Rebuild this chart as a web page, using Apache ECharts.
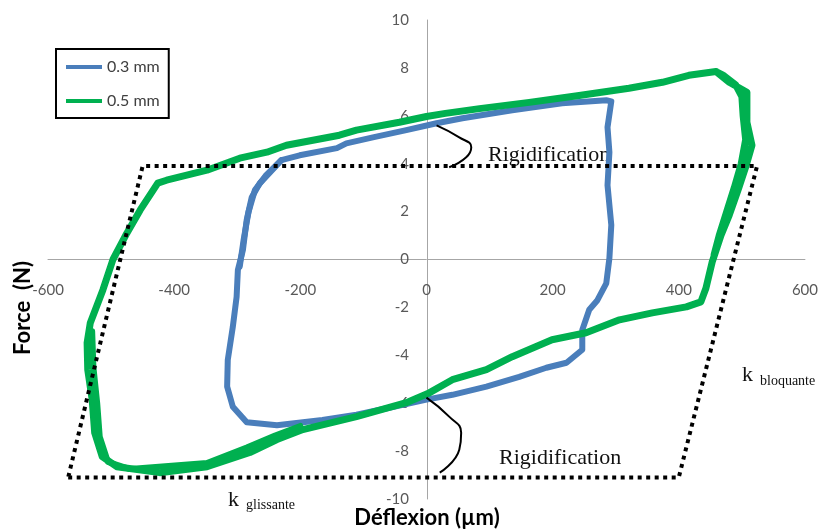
<!DOCTYPE html>
<html><head><meta charset="utf-8">
<script src="https://cdn.jsdelivr.net/npm/echarts@6/dist/echarts.min.js"></script>
<style>html,body{margin:0;padding:0;background:#fff}#c{width:821px;height:531px}</style>
</head><body><div id="c"></div>
<script>
const seriesNames = ['0.3 mm', '0.5 mm'];
const xRange = [-600, 600, 200];
const yRange = [-10, 10, 2];

const loop03 = [
  [293,6.6],[285,6.65],[215,6.52],[136,6.23],[57,5.9],[16,5.69],[-32,5.4],[-85,5.1],[-127,4.85],[-142,4.65],
  [-201,4.35],[-230,4.15],[-264,3.19],[-277,2.6],[-285,1.65],[-291,0.4],[-299,-0.44],[-301,-1.56],[-307,-2.81],
  [-315,-4.19],[-316,-5.31],[-307,-6.15],[-285,-6.8],[-237,-6.92],[-165,-6.7],[-111,-6.48],[-59,-6.19],[0,-5.85],
  [41,-5.65],[95,-5.31],[147,-4.9],[190,-4.52],[222,-4.31],[247,-3.77],[247,-2.94],[258,-2.1],[271,-1.7],
  [285,-1.0],[290,0.06],[293,1.44],[287,3.1],[290,4.48],[287,5.52],[293,6.6]
];
// second, slightly different pass of the 0.3 mm cycle near the left knee (band thickening)
const loop03b = [
  [-230,4.15],[-255,3.5],[-272,2.9],[-282,2.0],[-290,0.8],[-296,-0.3]
];
const loop05 = [
  [459,7.85],[416,7.69],[374,7.4],[321,7.15],[242,6.85],[163,6.56],[84,6.3],[30,6.1],[0,5.97],[-43,5.73],
  [-111,5.4],[-138,5.19],[-222,4.77],[-253,4.48],[-296,4.23],[-348,3.73],[-412,3.31],[-426,3.19],[-454,2.06],
  [-475,1.1],[-497,0],[-513,-1.27],[-533,-2.65],[-538,-3.48],[-537,-4.6],[-530,-5.85],[-526,-7.23],[-514,-8.23],
  [-491,-8.65],[-423,-8.9],[-348,-8.65],[-280,-8.06],[-237,-7.52],[-196,-7.1],[-111,-6.56],[-32,-5.98],[5,-5.56],
  [41,-5.02],[95,-4.6],[136,-4.06],[199,-3.35],[253,-3.06],[306,-2.52],[358,-2.23],[412,-1.98],[435,-1.77],
  [443,-1.2],[453,-0.1],[467,1.02],[480,1.85],[495,2.98],[507,3.94],[516,4.77],[508,5.73],[508,6.98],[480,7.4],[459,7.85],
  [470,7.7],[490,7.3],[500,6.8],[502,6.0],[506,5.0],[499,4.0],[488,3.0],[476,2.0],[464,1.0],[456,0.2]
];
// second pass of the 0.5 mm cycle on the left flank and lower branch
const loop05b = [
  [-530,-3.0],[-528,-4.5],[-522,-6.0],[-518,-7.4],[-505,-8.45],[-470,-8.75],
  [-348,-8.5],[-285,-7.85],[-240,-7.35],[-200,-6.95]
];
const dottedFrame = [[-568,-9.1],[400,-9.1],[524,3.9],[-450,3.9],[-568,-9.1]];
const braceTop = [[16,5.6],[52,5.1],[71,4.69],[63,4.27],[36,3.85]];
const braceBottom = [[0,-5.77],[36,-6.56],[55,-7.23],[52,-7.94],[21,-8.9]];
const annotText = 'Rigidification';
const kLabel = 'k';
const kSubs = ['bloquante', 'glissante'];
const xTitle = 'Déflexion (µm)';
const yTitle = 'Force  (N)';

const chart = echarts.init(document.getElementById('c'), null, {renderer: 'canvas'});
const sans = 'Lato, "Open Sans", sans-serif';
const serif = '"Liberation Serif", "DejaVu Serif", serif';
const tickLabel = {color: '#595959', fontSize: 15, fontFamily: sans};
const BLUE = '#4a7ebb', GREEN = '#00b050';

const G = {left: 48, right: 15, top: 20, bottom: 32};
const plotW = 821 - G.left - G.right;
const plotH = 531 - G.top - G.bottom;
// place each axis at the other axis' zero
const yAxisOffset = -plotW * (0 - xRange[0]) / (xRange[1] - xRange[0]);
const xAxisOffset = -plotH * (0 - yRange[0]) / (yRange[1] - yRange[0]);

const lineSeries = (name, data, color, width, z) => ({
  name, type: 'line', data, showSymbol: false, z, color,
  lineStyle: {width, color, cap: 'round', join: 'round'}
});

chart.setOption({
  animation: false,
  backgroundColor: '#fff',
  grid: Object.assign({containLabel: false}, G),
  xAxis: {
    type: 'value', min: xRange[0], max: xRange[1], interval: xRange[2],
    position: 'bottom', offset: xAxisOffset,
    axisLine: {onZero: false, lineStyle: {color: '#a6a6a6', width: 1}},
    axisTick: {show: false}, splitLine: {show: false},
    axisLabel: Object.assign({margin: 23, showMinLabel: true, showMaxLabel: true}, tickLabel)
  },
  yAxis: {
    type: 'value', min: yRange[0], max: yRange[1], interval: yRange[2],
    position: 'left', offset: yAxisOffset,
    axisLine: {onZero: false, lineStyle: {color: '#a6a6a6', width: 1}},
    axisTick: {show: false}, splitLine: {show: false},
    axisLabel: Object.assign({margin: 18, showMinLabel: true, showMaxLabel: true}, tickLabel)
  },
  legend: {
    data: seriesNames, orient: 'vertical', left: 56, top: 49,
    backgroundColor: '#fff', borderColor: '#000', borderWidth: 2,
    padding: [10, 9, 9, 10], itemGap: 18, itemWidth: 36, itemHeight: 4,
    icon: 'rect', textStyle: {color: '#404040', fontSize: 16, fontFamily: sans}
  },
  series: [
    lineSeries(seriesNames[0], loop03, BLUE, 6, 2),
    lineSeries(seriesNames[0], loop03b, BLUE, 6, 2),
    lineSeries(seriesNames[1], loop05, GREEN, 7, 3),
    lineSeries(seriesNames[1], loop05b, GREEN, 6, 3),
    {name: 'frame', type: 'line', data: dottedFrame, showSymbol: false, z: 4, silent: true,
     lineStyle: {width: 4, color: '#000', type: [4, 4.5], cap: 'butt'}},
    {name: 'brace1', type: 'line', data: braceTop, showSymbol: false, smooth: true, z: 4, silent: true,
     lineStyle: {width: 2, color: '#000'}},
    {name: 'brace2', type: 'line', data: braceBottom, showSymbol: false, smooth: true, z: 4, silent: true,
     lineStyle: {width: 2, color: '#000'}}
  ],
  graphic: [
    {type: 'text', x: 23, y: 308, rotation: Math.PI / 2, style: {text: yTitle, fill: '#000', font: 'bold 22px ' + sans, align: 'center', verticalAlign: 'middle'}},
    {type: 'text', x: 427, y: 518, style: {text: xTitle, fill: '#000', font: 'bold 22px ' + sans, align: 'center', verticalAlign: 'middle'}},
    {type: 'text', x: 488, y: 155, style: {text: annotText, fill: '#111', font: '22px ' + serif, align: 'left', verticalAlign: 'middle'}},
    {type: 'text', x: 499, y: 458, style: {text: annotText, fill: '#111', font: '22px ' + serif, align: 'left', verticalAlign: 'middle'}},
    {type: 'text', x: 742, y: 375, style: {text: kLabel, fill: '#111', font: '22px ' + serif, align: 'left', verticalAlign: 'middle'}},
    {type: 'text', x: 760, y: 381, style: {text: kSubs[0], fill: '#111', font: '14px ' + serif, align: 'left', verticalAlign: 'middle'}},
    {type: 'text', x: 228, y: 500, style: {text: kLabel, fill: '#111', font: '22px ' + serif, align: 'left', verticalAlign: 'middle'}},
    {type: 'text', x: 246, y: 505, style: {text: kSubs[1], fill: '#111', font: '14px ' + serif, align: 'left', verticalAlign: 'middle'}}
  ]
});
</script>
</body></html>
